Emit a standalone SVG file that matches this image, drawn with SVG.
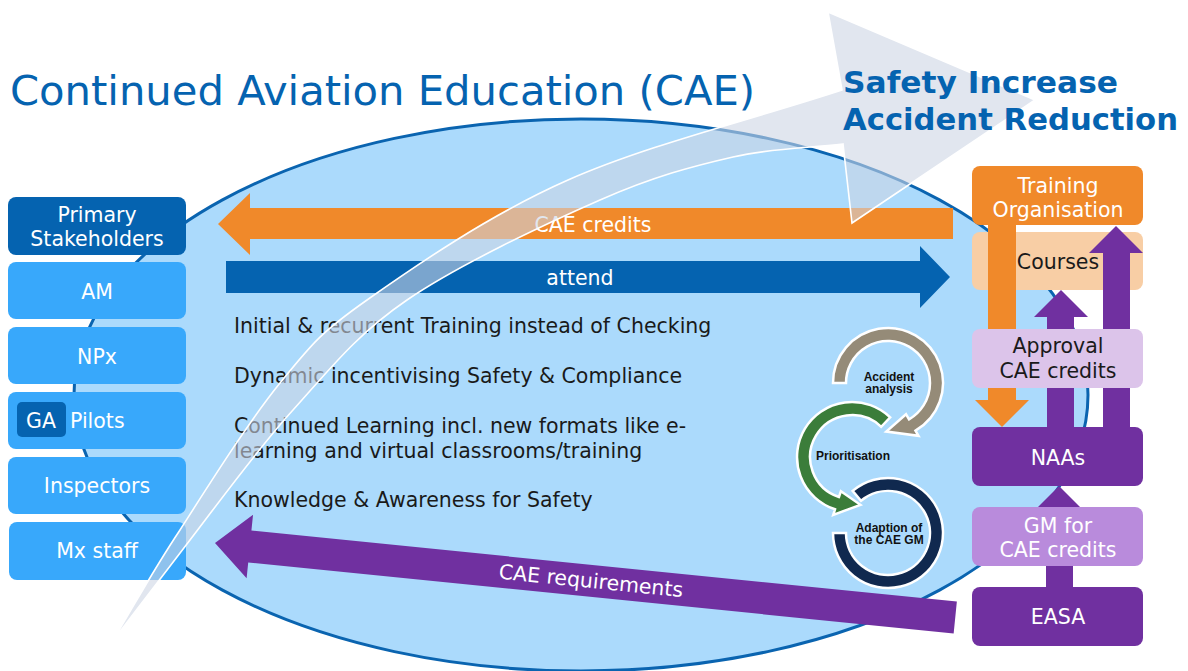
<svg xmlns="http://www.w3.org/2000/svg" width="1188" height="671" viewBox="0 0 1188 671">
  <style>
    text { font-family: "DejaVu Sans", Verdana, sans-serif; }
    .lbl { font-size: 20.5px; fill: #ffffff; text-anchor: middle; }
    .lbl-dark { font-size: 20.5px; fill: #1a1a1a; text-anchor: middle; }
    .body { font-size: 20.5px; fill: #1a1a1a; }
    .cyc { font-family: "Liberation Sans", Arial, sans-serif; font-weight: bold; font-size: 12px; fill: #111111; text-anchor: middle; }
    .stake { fill: #38a8fb; }
    .dkblue { fill: #0563b0; }
    .purple { fill: #7030a0; }
    .ring { stroke: #ffffff; stroke-width: 2.5; stroke-linejoin: miter; }
  </style>

  <!-- background ellipse -->
  <g id="cae-ellipse">
    <ellipse cx="581" cy="395" rx="507" ry="276" fill="#abdafc" stroke="#0a64b0" stroke-width="3"/>
  </g>

  <!-- connectors -->
  <g id="connectors">
    <g id="cae-credits-arrow">
      <polygon points="218,224 250,193 250,208 953,208 953,239 250,239 250,255" fill="#f0892a"/>
      <text class="lbl" x="593" y="232">CAE credits</text>
    </g>
    <g id="attend-arrow">
      <polygon points="226,261 920,261 920,246 950,277 920,308 920,293 226,293" class="dkblue"/>
      <text class="lbl" x="580" y="285">attend</text>
    </g>
    <g id="requirements-arrow" transform="translate(215,543) rotate(5.75)">
      <polygon points="0,0 35,-32 35,-16 744,-16 744,16 35,16 35,32" class="purple"/>
      <text class="lbl" x="378" y="7">CAE requirements</text>
    </g>
  </g>

  <!-- bullet statements -->
  <g id="statements" class="body">
    <text x="234" y="333">Initial &amp; recurrent Training instead of Checking</text>
    <text x="234" y="383">Dynamic incentivising Safety &amp; Compliance</text>
    <text x="234" y="433">Continued Learning incl. new formats like e-</text>
    <text x="234" y="458">learning and virtual classrooms/training</text>
    <text x="234" y="507">Knowledge &amp; Awareness for Safety</text>
  </g>

  <!-- improvement cycle -->
  <g id="cycle-prioritisation">
    <path class="ring" fill="#3b7d3a" d="M890.2,417.4 A55,55 0 1 0 835,509.3 L833.2,515 L860.4,504.8 L840.9,491.2 L839,497 A42,42 0 1 1 881.2,426.8 Z"/>
    <text class="cyc" x="853" y="460">Prioritisation</text>
  </g>
  <g id="cycle-accident-analysis">
    <path class="ring" fill="#958b78" d="M833,383 A55,55 0 1 1 915.5,430.6 L918.5,435.8 L886.3,431.5 L906,414.2 L909,419.4 A42,42 0 1 0 846,383 Z"/>
    <text class="cyc" x="889" y="381">Accident</text>
    <text class="cyc" x="889" y="393">analysis</text>
  </g>
  <g id="cycle-adaption">
    <path class="ring" fill="#10294f" d="M852.6,490.9 A55,55 0 1 1 833,533 L846,533 A42,42 0 1 0 861,500.8 Z"/>
    <text class="cyc" x="889" y="532">Adaption of</text>
    <text class="cyc" x="889" y="544">the CAE GM</text>
  </g>

  <!-- stakeholder column -->
  <g id="primary-stakeholders">
    <rect x="8" y="197" width="178" height="58" rx="8" class="dkblue"/>
    <text class="lbl" x="97" y="222">Primary</text>
    <text class="lbl" x="97" y="246">Stakeholders</text>
  </g>
  <g id="am">
    <rect x="8" y="262" width="178" height="57" rx="8" class="stake"/>
    <text class="lbl" x="97" y="299">AM</text>
  </g>
  <g id="npx">
    <rect x="8" y="327" width="178" height="57" rx="8" class="stake"/>
    <text class="lbl" x="97" y="364">NPx</text>
  </g>
  <g id="ga-pilots">
    <rect x="8" y="392" width="178" height="57" rx="8" class="stake"/>
    <rect x="17" y="402" width="49" height="35" rx="5" class="dkblue"/>
    <text class="lbl" x="41" y="428">GA</text>
    <text class="lbl" x="70" y="428" style="text-anchor:start">Pilots</text>
  </g>
  <g id="inspectors">
    <rect x="8" y="457" width="178" height="57" rx="8" class="stake"/>
    <text class="lbl" x="97" y="493">Inspectors</text>
  </g>
  <g id="mx-staff">
    <rect x="9" y="522" width="177" height="58" rx="8" class="stake"/>
    <text class="lbl" x="97" y="558">Mx staff</text>
  </g>

  <!-- authority / training column -->
  <g id="courses">
    <rect x="972" y="232" width="171" height="58" rx="8" fill="#f8cea5"/>
    <text class="lbl-dark" x="1058" y="269">Courses</text>
  </g>
  <g id="column-arrows">
    <polygon points="988,225 1016,225 1016,400 1029,400 1002,427 975,400 988,400" fill="#f0892a"/>
    <polygon points="1047,427 1047,317 1034,317 1061,290 1088,317 1074,317 1074,427" class="purple"/>
    <polygon points="1103,427 1103,253 1089,253 1116,226 1143,253 1130,253 1130,427" class="purple"/>
  </g>
  <g id="training-organisation">
    <rect x="972" y="166" width="171" height="59" rx="8" fill="#f0892a"/>
    <text class="lbl" x="1058" y="193">Training</text>
    <text class="lbl" x="1058" y="217">Organisation</text>
  </g>
  <g id="approval">
    <rect x="972" y="329" width="171" height="59" rx="8" fill="#dcc4ea"/>
    <text class="lbl-dark" x="1058" y="353">Approval</text>
    <text class="lbl-dark" x="1058" y="378">CAE credits</text>
  </g>
  <g id="naas">
    <rect x="972" y="427" width="171" height="59" rx="8" class="purple"/>
    <text class="lbl" x="1058" y="465">NAAs</text>
  </g>
  <g id="easa-to-naas">
    <polygon points="1046,587 1046,512 1033,512 1059,486 1085,512 1073,512 1073,587" class="purple"/>
  </g>
  <g id="gm">
    <rect x="972" y="507" width="171" height="59" rx="8" fill="#b98bdc"/>
    <text class="lbl" x="1058" y="533">GM for</text>
    <text class="lbl" x="1058" y="557">CAE credits</text>
  </g>
  <g id="easa">
    <rect x="972" y="587" width="171" height="59" rx="8" class="purple"/>
    <text class="lbl" x="1058" y="624">EASA</text>
  </g>

  <!-- sweeping arrow towards the outcome -->
  <g id="outcome-arrow">
    <path fill="#ccd4e4" fill-opacity="0.59" stroke="#ffffff" stroke-width="1.6" stroke-linejoin="miter"
      d="M112,642
         C135,604 152,572 180,530
         C208.3,485.8 248.8,421.3 280,383
         C311.2,344.7 319,333.8 367,300
         C415,266.2 488.8,215 568,180
         C647.2,145 750.7,120 842,90
         L828,12 L1035,100 L852,223 L843,144
         C806.3,148.3 773.5,147.7 733,157
         C692.5,166.3 654.3,176.2 600,200
         C545.7,223.8 458.2,265 407,300
         C355.8,335 329.2,370 293,410
         C256.8,450 220.5,500.3 190,540
         C159.5,579.7 138,608 112,642 Z"/>
  </g>

  <!-- headings -->
  <g id="title">
    <text x="10" y="105" font-size="41" fill="#0563b0" textLength="745" lengthAdjust="spacingAndGlyphs"
      style="font-family:'DejaVu Sans Condensed','DejaVu Sans',sans-serif">Continued Aviation Education (CAE)</text>
  </g>
  <g id="outcome">
    <text x="843" y="93" font-size="31" font-weight="bold" fill="#0563b0" textLength="275" lengthAdjust="spacingAndGlyphs">Safety Increase</text>
    <text x="843" y="130" font-size="31" font-weight="bold" fill="#0563b0" textLength="335" lengthAdjust="spacingAndGlyphs">Accident Reduction</text>
  </g>
</svg>
